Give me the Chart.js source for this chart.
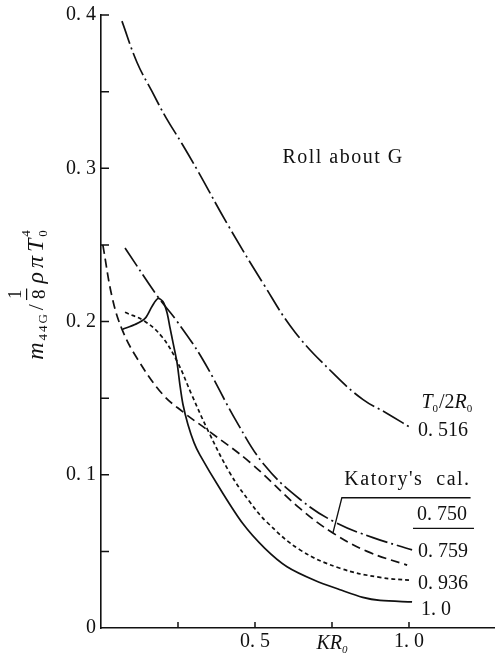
<!DOCTYPE html>
<html>
<head>
<meta charset="utf-8">
<script src="https://cdn.jsdelivr.net/npm/chart.js@4.4.1/dist/chart.umd.min.js"></script>
<style>
  html, body { margin: 0; padding: 0; background: #fff; }
  #wrap { width: 496px; height: 654px; }
</style>
</head>
<body>
<div id="wrap"><canvas id="chart" width="496" height="654"></canvas></div>
<script>
// KR0 / m44G values, one pair of arrays per T0/2R0
const kr516 = [0.068, 0.117, 0.166, 0.211, 0.263, 0.315, 0.412, 0.526, 0.630, 0.760, 0.851, 0.929, 1.003];
const m516  = [0.396, 0.369, 0.350, 0.333, 0.316, 0.298, 0.263, 0.225, 0.193, 0.165, 0.149, 0.140, 0.131];

const kr759 = [0.078, 0.185, 0.240, 0.328, 0.442, 0.532, 0.646, 0.760, 0.883, 1.010];
const m759  = [0.248, 0.216, 0.202, 0.176, 0.134, 0.106, 0.084, 0.069, 0.059, 0.051];

// Katory's calculation, T0/2R0 = 0.750
const kr750 = [0.006, 0.036, 0.068, 0.117, 0.198, 0.266, 0.347, 0.484, 0.646, 0.753, 0.864, 0.994];
const m750  = [0.250, 0.216, 0.195, 0.176, 0.153, 0.141, 0.129, 0.108, 0.078, 0.062, 0.050, 0.041];

const kr936 = [0.078, 0.143, 0.198, 0.247, 0.295, 0.347, 0.419, 0.484, 0.539, 0.646, 0.776, 0.906, 1.010];
const m936  = [0.206, 0.200, 0.190, 0.174, 0.152, 0.129, 0.101, 0.082, 0.069, 0.051, 0.039, 0.033, 0.031];

const kr100 = [0.071, 0.110, 0.143, 0.166, 0.185, 0.201, 0.214, 0.224, 0.234, 0.247, 0.256, 0.266,
               0.282, 0.302, 0.321, 0.386, 0.461, 0.532, 0.604, 0.695, 0.776, 0.850, 0.906, 1.010];
const m100  = [0.195, 0.198, 0.202, 0.210, 0.215, 0.213, 0.206, 0.196, 0.186, 0.173, 0.159, 0.146,
               0.133, 0.121, 0.113, 0.091, 0.068, 0.052, 0.040, 0.031, 0.025, 0.020, 0.018, 0.017];

// axis ticks
const yTickValues = [0.05, 0.1, 0.15, 0.2, 0.25, 0.3, 0.35, 0.4];
const yLabelValues = [0, 0.1, 0.2, 0.3, 0.4];
const yLabels = ['0', '0. 1', '0. 2', '0. 3', '0. 4'];
const xTickValues = [0.25, 0.5, 0.75, 1.0];
const xLabelValues = [0.5, 1.0];
const xLabels = ['0. 5', '1. 0'];

const ink = '#111';
const serif = "'Liberation Serif', 'DejaVu Serif', serif";

function pts(xs, ys) {
    return xs.map((x, i) => ({ x: x, y: ys[i] }));
}

function fontOf(p) {
    return (p.italic ? 'italic ' : '') + p.size + 'px ' + serif;
}

// draw a run of text pieces (italic / sub / sup / fraction) on one baseline
function drawRich(ctx, parts, x, y, align) {
    let total = 0;
    for (const p of parts) {
        ctx.font = fontOf(p);
        p.w = p.frac
            ? Math.max(ctx.measureText(p.num).width, ctx.measureText(p.den).width) + 2
            : ctx.measureText(p.t).width;
        if (p.adv !== false) total += p.w + (p.sp || 0);
    }
    let cx = align === 'center' ? x - total / 2 : align === 'right' ? x - total : x;
    ctx.textAlign = 'left';
    ctx.textBaseline = 'alphabetic';
    for (const p of parts) {
        ctx.font = fontOf(p);
        if (p.frac) {
            ctx.fillRect(cx, y + p.barY, p.w, 1.2);
            ctx.textAlign = 'center';
            ctx.fillText(p.num, cx + p.w / 2, y + p.numY);
            ctx.fillText(p.den, cx + p.w / 2, y + p.denY);
            ctx.textAlign = 'left';
        } else {
            ctx.fillText(p.t, cx, y + (p.dy || 0));
        }
        if (p.adv !== false) cx += p.w + (p.sp || 0);
    }
}

const decor = {
    id: 'decor',
    afterDraw(chart) {
        const { ctx, scales: { x, y } } = chart;
        ctx.save();
        ctx.strokeStyle = ink;
        ctx.fillStyle = ink;
        ctx.lineWidth = 1.5;

        // inward tick marks
        ctx.beginPath();
        yTickValues.forEach(v => {
            const py = y.getPixelForValue(v);
            ctx.moveTo(x.left, py);
            ctx.lineTo(x.left + 8, py);
        });
        xTickValues.forEach(v => {
            const px = x.getPixelForValue(v);
            ctx.moveTo(px, y.bottom);
            ctx.lineTo(px, y.bottom - 6);
        });
        ctx.stroke();

        // tick labels
        ctx.font = '20px ' + serif;
        ctx.textAlign = 'right';
        ctx.textBaseline = 'middle';
        yLabelValues.forEach((v, i) => {
            ctx.fillText(yLabels[i], x.left - 5, y.getPixelForValue(v));
        });
        ctx.textAlign = 'center';
        xLabelValues.forEach((v, i) => {
            ctx.fillText(xLabels[i], x.getPixelForValue(v), y.bottom + 14);
        });
        drawRich(ctx, [
            { t: 'KR', size: 20, italic: true },
            { t: '0', size: 11, italic: true, dy: 4 }
        ], x.getPixelForValue(0.75), y.bottom + 21, 'center');

        // y axis title, rotated
        ctx.save();
        ctx.translate(30, 295);
        ctx.rotate(-Math.PI / 2);
        drawRich(ctx, [
            { t: 'm', size: 24, italic: true, sp: 2 },
            { t: '4', size: 13, dy: 4, sp: 2 },
            { t: '4', size: 13, dy: 4, sp: 2 },
            { t: 'G', size: 13, dy: 4, sp: 4 },
            { t: '/', size: 22, sp: 4 },
            { frac: true, num: '1', den: '8', size: 19, barY: -17, numY: -22, denY: 2, sp: 5 },
            { t: 'ρ', size: 24, italic: true, sp: 4 },
            { t: 'π', size: 24, italic: true, sp: 4 },
            { t: 'T', size: 24, italic: true, sp: 2 },
            { t: '4', size: 13, dy: -13, adv: false },
            { t: '0', size: 13, dy: 4 }
        ], 0, 13, 'center');
        ctx.restore();

        // curve labels
        ctx.textBaseline = 'middle';
        ctx.textAlign = 'left';
        ctx.font = '20px ' + serif;
        ctx.fillText('0. 516', x.getPixelForValue(1.029), y.getPixelForValue(0.129));
        ctx.fillText('0. 750', x.getPixelForValue(1.026), y.getPixelForValue(0.074));
        ctx.fillText('0. 759', x.getPixelForValue(1.029), y.getPixelForValue(0.050));
        ctx.fillText('0. 936', x.getPixelForValue(1.029), y.getPixelForValue(0.029));
        ctx.fillText('1. 0', x.getPixelForValue(1.039), y.getPixelForValue(0.012));

        ctx.letterSpacing = '1.5px';
        ctx.textAlign = 'right';
        ctx.fillText("Katory's  cal.", x.getPixelForValue(1.200), y.getPixelForValue(0.097));
        ctx.textAlign = 'center';
        ctx.fillText('Roll about G', x.getPixelForValue(0.786), y.getPixelForValue(0.307));
        ctx.letterSpacing = '0px';

        ctx.textBaseline = 'alphabetic';
        drawRich(ctx, [
            { t: 'T', size: 20, italic: true },
            { t: '0', size: 11, dy: 4, sp: 1 },
            { t: '/2', size: 20 },
            { t: 'R', size: 20, italic: true },
            { t: '0', size: 11, dy: 4 }
        ], x.getPixelForValue(1.123), y.getPixelForValue(0.148) + 7, 'center');

        // leader to Katory's curve and underline of 0.750
        ctx.lineWidth = 1.3;
        ctx.beginPath();
        ctx.moveTo(x.getPixelForValue(1.200), y.getPixelForValue(0.085));
        ctx.lineTo(x.getPixelForValue(0.782), y.getPixelForValue(0.085));
        ctx.lineTo(x.getPixelForValue(0.753), y.getPixelForValue(0.062));
        ctx.moveTo(x.getPixelForValue(1.013), y.getPixelForValue(0.065));
        ctx.lineTo(x.getPixelForValue(1.211), y.getPixelForValue(0.065));
        ctx.stroke();

        ctx.restore();
    }
};

const lineStyle = {
    borderColor: ink,
    borderWidth: 1.7,
    pointRadius: 0,
    fill: false,
    tension: 0.4
};

new Chart(document.getElementById('chart'), {
    type: 'line',
    data: {
        datasets: [
            { ...lineStyle, label: '0.516', data: pts(kr516, m516), borderDash: [24, 4, 2, 4] },
            { ...lineStyle, label: '0.759', data: pts(kr759, m759), borderDash: [22, 4, 2, 4] },
            { ...lineStyle, label: "0.750 Katory's cal.", data: pts(kr750, m750), borderDash: [9, 5] },
            { ...lineStyle, label: '0.936', data: pts(kr936, m936), borderDash: [4, 3] },
            { ...lineStyle, label: '1.0', data: pts(kr100, m100), tension: 0.3 }
        ]
    },
    options: {
        responsive: false,
        animation: false,
        devicePixelRatio: 1,
        layout: { padding: { left: 101, top: 15, right: 2, bottom: 26 } },
        plugins: {
            legend: { display: false },
            tooltip: { enabled: false }
        },
        scales: {
            x: {
                type: 'linear',
                min: 0,
                max: 1.276,
                grid: { display: false, drawTicks: false },
                ticks: { display: false },
                border: { display: true, color: ink, width: 1.6 }
            },
            y: {
                type: 'linear',
                min: 0,
                max: 0.4,
                grid: { display: false, drawTicks: false },
                ticks: { display: false },
                border: { display: true, color: ink, width: 1.6 }
            }
        }
    },
    plugins: [decor]
});
</script>
</body>
</html>
